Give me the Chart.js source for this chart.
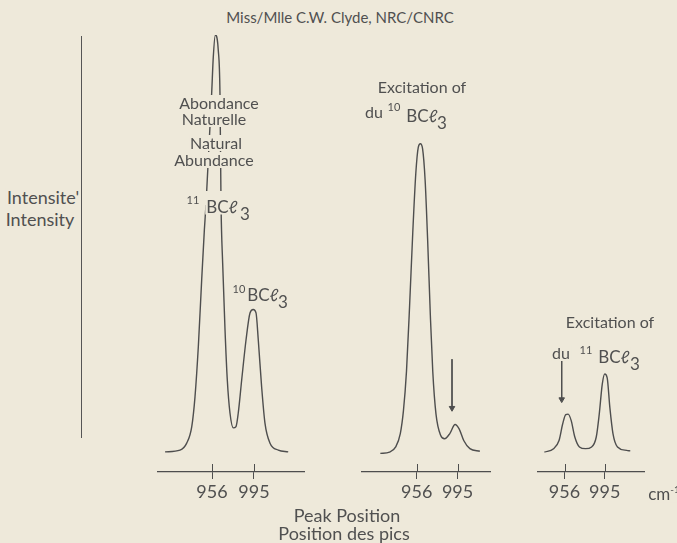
<!DOCTYPE html>
<html>
<head>
<meta charset="utf-8">
<script src="https://cdn.jsdelivr.net/npm/chart.js@4/dist/chart.umd.min.js"></script>
<style>
  html, body { margin: 0; padding: 0; background: #eee9da; }
  #page { position: relative; width: 677px; height: 543px; background: #eee9da; overflow: hidden;
          font-family: Lato, "Open Sans", sans-serif; color: #505050; }
  .panel { position: absolute; top: 35px; height: 477px; z-index: 1; }
  .t { position: absolute; transform: translate(-50%, -50%); line-height: 1; white-space: nowrap;
       font-size: 16px; background: #eee9da; padding: 0 1px; z-index: 5; }
  .s { font-size: 11px; }
  .f { font-size: 17px; }
  #yline { position: absolute; left: 81px; top: 36px; width: 1px; height: 402px; background: #555; }
</style>
</head>
<body>
<div id="page">
  <div class="t" style="left:340px;top:17px;font-size:15px">Miss/Mlle C.W. Clyde, NRC/CNRC</div>
  <div id="yline"></div>
  <div class="t" style="left:43px;top:197px;font-size:18px">Intensite'</div>
  <div class="t" style="left:40px;top:219px;font-size:18px">Intensity</div>

  <div class="panel" style="left:157px;width:148px"><canvas id="panel1"></canvas></div>
  <div class="panel" style="left:357px;width:138px"><canvas id="panel2"></canvas></div>
  <div class="panel" style="left:533px;width:116px"><canvas id="panel3"></canvas></div>

  <!-- panel 1 labels, masking the tall peak -->
  <div class="t" style="left:219px;top:103px">Abondance</div>
  <div class="t" style="left:214px;top:119px">Naturelle</div>
  <div class="t" style="left:216px;top:143px">Natural</div>
  <div class="t" style="left:214px;top:160px">Abundance</div>
  <div class="t" style="left:220px;top:198px;height:14px;width:60px"></div>
  <div class="t s" style="left:193px;top:199px">11</div>
  <div class="t f" style="left:222px;top:206px">BCℓ</div>
  <div class="t f" style="left:245px;top:213px">3</div>
  <div class="t s" style="left:239px;top:288px">10</div>
  <div class="t f" style="left:263px;top:294px">BCℓ</div>
  <div class="t f" style="left:283px;top:301px">3</div>

  <!-- panel 2 labels -->
  <div class="t" style="left:422px;top:87px">Excitation of</div>
  <div class="t" style="left:374px;top:112px">du</div>
  <div class="t s" style="left:394px;top:106px">10</div>
  <div class="t f" style="left:422px;top:115px">BCℓ</div>
  <div class="t f" style="left:442px;top:122px">3</div>

  <!-- panel 3 labels -->
  <div class="t" style="left:610px;top:322px">Excitation of</div>
  <div class="t" style="left:561px;top:353px">du</div>
  <div class="t s" style="left:586px;top:349px">11</div>
  <div class="t f" style="left:614px;top:356px">BCℓ</div>
  <div class="t f" style="left:635px;top:363px">3</div>

  <div class="t" style="left:664px;top:493px;font-size:17px">cm<sup style="font-size:10px">-1</sup></div>
  <div class="t" style="left:347px;top:515px;font-size:18px">Peak Position</div>
  <div class="t" style="left:344px;top:533px;font-size:18px">Position des pics</div>
</div>

<script>
// tick positions, cm-1
const tickWavenumbers = [956, 995];

// natural abundance spectrum
const naturalWavenumber = [912.4, 926.3, 932.5, 937.2, 940.2, 943.3, 946.4, 948.9, 950.4, 955.7, 957.2, 959.1,
  961.8, 963.4, 964.4, 965.9, 968.1, 970.2, 972.7, 975.8, 978.3, 980.4, 983.6, 987.6, 991.3, 994.3, 996.9,
  999.0, 1002.1, 1005.2, 1009.9, 1017.6, 1026.8];
const naturalIntensity = [4.6, 5.0, 6.6, 10.4, 17.2, 28.7, 43.9, 55.4, 61.1, 86.7, 95.0, 100,
  96.6, 86.7, 61.1, 47.8, 32.5, 21.1, 13.5, 10.1, 10.4, 13.5, 21.1, 30.2, 36.4, 37.2, 36.4,
  30.2, 19.5, 11.2, 6.6, 5.0, 4.6];

// after excitation of 10BCl3
const exc10Wavenumber = [921.2, 930.0, 935.9, 940.3, 943.3, 946.2, 949.2, 952.2, 955.1, 957.5, 959.5, 961.6,
  964.0, 966.4, 969.0, 971.3, 974.4, 978.8, 982.6, 987.6, 992.6, 996.5, 1000.9, 1006.8, 1016.3];
const exc10Intensity = [4.3, 4.6, 5.8, 8.9, 14.2, 23.3, 38.6, 55.4, 69.1, 75.2, 76.0, 74.8,
  67.6, 53.8, 36.3, 23.3, 13.4, 8.5, 7.7, 8.9, 11.0, 10.0, 7.3, 5.4, 4.8];

// after excitation of 11BCl3
const exc11Wavenumber = [936.5, 945.4, 950.7, 954.2, 957.2, 959.5, 962.5, 966.0, 970.5, 976.4, 982.3, 986.8,
  989.7, 992.6, 995.0, 997.4, 1000.0, 1003.0, 1007.4, 1016.3, 1019.8];
const exc11Intensity = [4.6, 5.4, 7.3, 11.1, 13.3, 13.4, 11.9, 8.1, 5.8, 5.4, 5.8, 8.1,
  13.4, 20.3, 22.7, 21.8, 14.9, 8.9, 5.8, 5.0, 4.9];

// arrows: [x, yStart, yEnd]
const arrow10 = [989.7, 26.1, 14.8];
const arrow11 = [953.3, 25.9, 16.8];

const ink = '#4e4e4e';
const fontFamily = 'Lato, "Open Sans", sans-serif';

const toPoints = (xs, ys) => xs.map((x, i) => ({ x: x, y: ys[i] }));

// upper half of the crossing tick marks
const tickCross = {
  id: 'tickCross',
  afterDraw(chart) {
    const { ctx, scales: { x } } = chart;
    ctx.save();
    ctx.strokeStyle = ink;
    ctx.lineWidth = 1;
    tickWavenumbers.forEach((v) => {
      const px = Math.round(x.getPixelForValue(v)) + 0.5;
      ctx.beginPath();
      ctx.moveTo(px, x.top - 8);
      ctx.lineTo(px, x.top);
      ctx.stroke();
    });
    ctx.restore();
  },
};

function makePanel(id, xs, ys, xMin, xMax, arrow) {
  const datasets = [
    {
      data: toPoints(xs, ys),
      borderColor: ink,
      borderWidth: 1.4,
      pointRadius: 0,
      cubicInterpolationMode: 'monotone',
      clip: false,
    },
  ];
  if (arrow) {
    datasets.push({
      data: [{ x: arrow[0], y: arrow[1] }, { x: arrow[0], y: arrow[2] }],
      borderColor: ink,
      backgroundColor: ink,
      borderWidth: 1,
      pointRadius: [0, 3.2],
      pointStyle: 'triangle',
      rotation: 180,
      clip: false,
    });
  }

  const ctx = document.getElementById(id).getContext('2d');
  return new Chart(ctx, {
    type: 'line',
    data: { datasets },
    plugins: [tickCross],
    options: {
      responsive: true,
      maintainAspectRatio: false,
      animation: false,
      layout: { padding: 0 },
      plugins: { legend: { display: false }, tooltip: { enabled: false } },
      scales: {
        x: {
          type: 'linear',
          min: xMin,
          max: xMax,
          afterBuildTicks: (s) => { s.ticks = tickWavenumbers.map((v) => ({ value: v })); },
          afterFit: (s) => { s.height = 40; },
          grid: { drawOnChartArea: false, tickLength: 7, color: ink },
          border: { color: ink, width: 1.2 },
          ticks: {
            color: '#505050',
            font: { family: fontFamily, size: 18 },
            padding: 2,
            autoSkip: false,
            maxRotation: 0,
          },
        },
        y: { display: false, min: 0, max: 100 },
      },
    },
  });
}

makePanel('panel1', naturalWavenumber, naturalIntensity, 904.9, 1042.4, null);
makePanel('panel2', exc10Wavenumber, exc10Intensity, 903.7, 1026.0, arrow10);
makePanel('panel3', exc11Wavenumber, exc11Intensity, 930.3, 1033.1, arrow11);
</script>
</body>
</html>
